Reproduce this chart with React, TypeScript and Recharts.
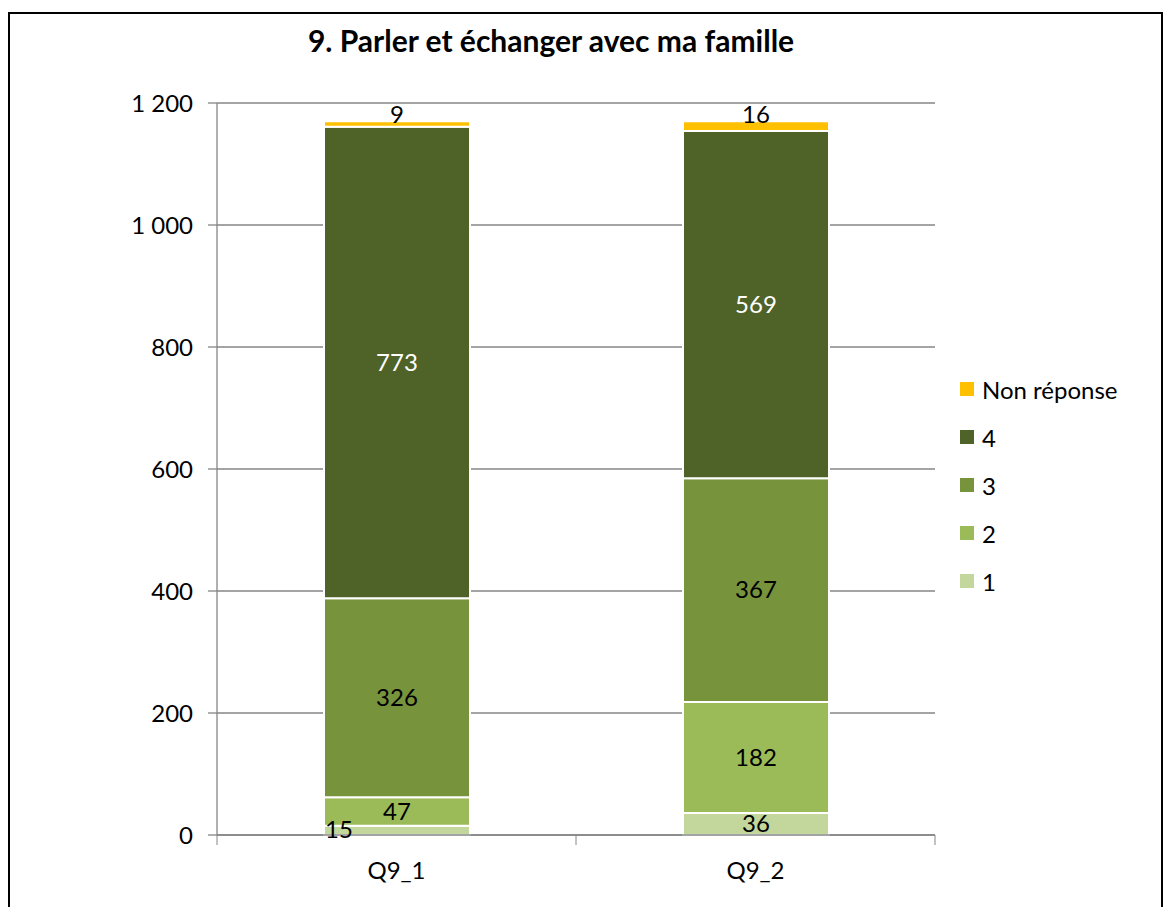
import { Bar, BarChart, CartesianGrid, LabelList, Legend, XAxis, YAxis } from "recharts";

const title = "9. Parler et échanger avec ma famille";
const categories = ["Q9_1", "Q9_2"];
const values1 = [15, 36];
const values2 = [47, 182];
const values3 = [326, 367];
const values4 = [773, 569];
const valuesNR = [9, 16];
const seriesNames = ["1", "2", "3", "4", "Non réponse"];
const seriesColors = ["#c3d69b", "#9bbb59", "#77933c", "#4f6228", "#ffc000"];
const labelColors = ["#000", "#000", "#000", "#fff", "#000"];
const yTicks = [0, 200, 400, 600, 800, 1000, 1200];

const W = 1163;
const H = 907;
const margin = { top: 103, right: 228, left: 0, bottom: 0 };
const Y_AXIS_W = 217;
const X_AXIS_H = 72;
const PLOT_W = W - margin.left - margin.right - Y_AXIS_W;
const FONT = "Lato, 'Open Sans', sans-serif";
const FS = 24;
const GRID = "#868686";

const seriesKeys = ["s1", "s2", "s3", "s4", "nr"];
const seriesValues = [values1, values2, values3, values4, valuesNR];

const data = categories.map((name, i) => {
  const row: Record<string, string | number> = { name };
  seriesKeys.forEach((k, j) => {
    row[k] = seriesValues[j][i];
  });
  return row;
});

function formatTick(v: number) {
  return String(v).replace(/\B(?=(\d{3})+(?!\d))/g, " ");
}

function XTick(props: any) {
  const { x, y, payload, index } = props;
  const band = PLOT_W / categories.length;
  const axisY = y - 8;
  return (
    <g>
      <line x1={x - band / 2} x2={x - band / 2} y1={axisY} y2={axisY + 10} stroke={GRID} />
      {index === categories.length - 1 && (
        <line x1={x + band / 2} x2={x + band / 2} y1={axisY} y2={axisY + 10} stroke={GRID} />
      )}
      <text x={x} y={axisY + 44} textAnchor="middle" fontSize={FS} fontFamily={FONT} fill="#000">
        {payload.value}
      </text>
    </g>
  );
}

function makeLabel(seriesIndex: number) {
  return (props: any) => {
    const { x, y, width, height, value, index } = props;
    const isTop = seriesIndex === 4;
    // Excel pushed the small "15" label to the left edge of the bar
    const leftAligned = seriesIndex === 0 && index === 0;
    const cx = leftAligned ? x + 1 : x + width / 2;
    const ty = isTop ? y + 2 : y + height / 2 + 8;
    return (
      <text
        x={cx}
        y={ty}
        textAnchor={leftAligned ? "start" : "middle"}
        fontSize={FS}
        fontFamily={FONT}
        fill={labelColors[seriesIndex]}
      >
        {value}
      </text>
    );
  };
}

function LegendContent() {
  const order = [4, 3, 2, 1, 0];
  return (
    <div style={{ fontFamily: FONT, fontSize: FS, color: "#000" }}>
      {order.map((i) => (
        <div key={i} style={{ display: "flex", alignItems: "center", height: 48 }}>
          <span
            style={{
              display: "inline-block",
              width: 14,
              height: 14,
              background: seriesColors[i],
              marginRight: 8,
            }}
          />
          <span>{seriesNames[i]}</span>
        </div>
      ))}
    </div>
  );
}

export default function App() {
  return (
    <div style={{ position: "absolute", left: 0, top: 0, width: W, height: H, background: "#fff" }}>
      <div
        style={{
          position: "absolute",
          left: 8,
          top: 12,
          width: W - 8,
          height: H,
          border: "2px solid #000",
          boxSizing: "border-box",
        }}
      />
      <div
        style={{
          position: "absolute",
          left: 0,
          top: 22,
          width: 1102,
          textAlign: "center",
          fontFamily: FONT,
          fontWeight: 700,
          fontSize: 30,
          color: "#000",
        }}
      >
        {title}
      </div>
      <div style={{ position: "absolute", left: 0, top: 0 }}>
        <BarChart width={W} height={H} data={data} margin={margin}>
          <CartesianGrid vertical={false} stroke={GRID} strokeWidth={1.3} />
          <XAxis
            dataKey="name"
            height={X_AXIS_H}
            axisLine={{ stroke: GRID, strokeWidth: 1.3 }}
            tickLine={false}
            tick={<XTick />}
            interval={0}
          />
          <YAxis
            width={Y_AXIS_W}
            domain={[0, 1200]}
            ticks={yTicks}
            tickFormatter={formatTick}
            axisLine={{ stroke: GRID, strokeWidth: 1.3 }}
            tickLine={{ stroke: GRID, strokeWidth: 1.3 }}
            tickSize={9}
            tickMargin={15}
            tick={{ fontSize: FS, fontFamily: FONT, fill: "#000" }}
          />
          <Legend
            layout="vertical"
            align="center"
            verticalAlign="middle"
            content={<LegendContent />}
            wrapperStyle={{ left: 960, top: 365, width: 200, height: 240 }}
          />
          {seriesKeys.map((k, i) => (
            <Bar
              key={k}
              dataKey={k}
              name={seriesNames[i]}
              stackId="a"
              fill={seriesColors[i]}
              stroke="#fff"
              strokeWidth={2}
              barSize={146}
              isAnimationActive={false}
            >
              <LabelList dataKey={k} content={makeLabel(i)} />
            </Bar>
          ))}
        </BarChart>
      </div>
    </div>
  );
}
